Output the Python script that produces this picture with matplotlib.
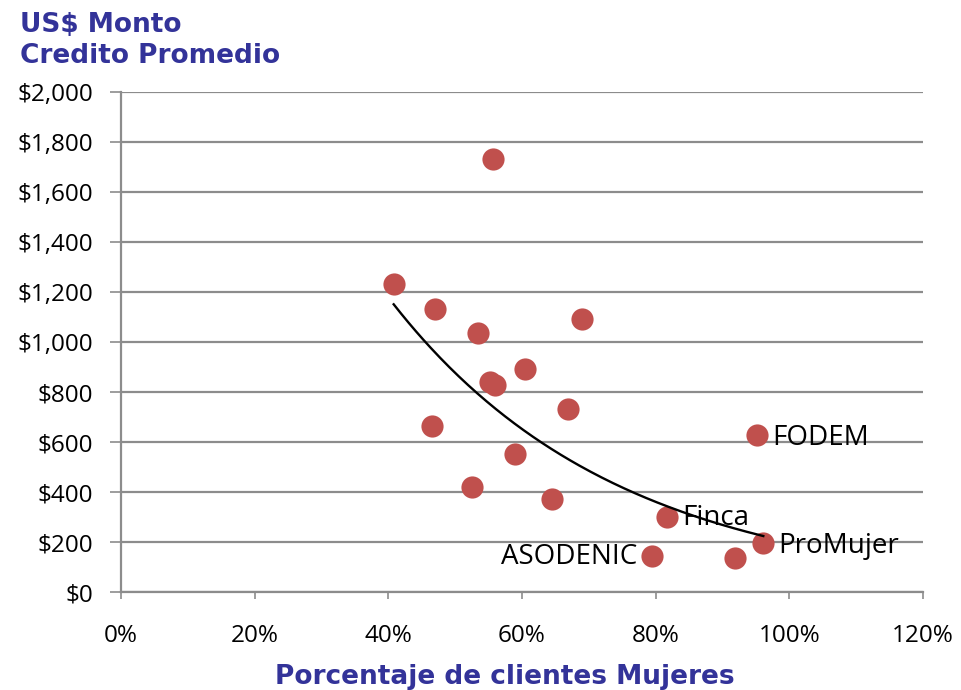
import numpy as np
import matplotlib
matplotlib.use("Agg")
import matplotlib.pyplot as plt
from matplotlib.ticker import FuncFormatter

# Data (percent women clients, average loan US$)
pct_women = [55.7, 40.8, 47.0, 53.4, 69.0, 60.5, 55.2, 56.0, 66.9, 46.5,
             59.0, 52.5, 64.5, 95.2, 81.7, 96.1, 79.5, 91.9]
avg_loan = [1732, 1232, 1132, 1036, 1092, 892, 840, 828, 732, 664,
            552, 420, 372, 628, 300, 196, 144, 136]
labels = ["", "", "", "", "", "", "", "", "", "",
          "", "", "", "FODEM", "Finca", "ProMujer", "ASODENIC", ""]

# exponential trendline: y = a * exp(b * x)
trend_a = 3850.0
trend_b = -2.96
trend_range = [0.408, 0.961]

x_ticks = [0, 20, 40, 60, 80, 100, 120]
y_ticks = [0, 200, 400, 600, 800, 1000, 1200, 1400, 1600, 1800, 2000]

blue = "#333399"
red = "#C0504D"
grid_gray = "#8C8C8C"
tick_font = "Open Sans"
title_font = "DejaVu Sans"

fig = plt.figure(figsize=(9.61, 6.90), dpi=100)
ax = fig.add_axes([0.1259, 0.142, 0.8346, 0.7247])

ax.set_xlim(0, 120)
ax.set_ylim(0, 2000)
ax.set_xticks(x_ticks)
ax.set_yticks(y_ticks)
ax.xaxis.set_major_formatter(FuncFormatter(lambda v, p: f"{int(v)}%"))
ax.yaxis.set_major_formatter(FuncFormatter(lambda v, p: f"${int(v):,}"))

ax.grid(axis="y", color=grid_gray, linewidth=1.6, zorder=0)
ax.set_axisbelow(True)
for s in ["top", "right"]:
    ax.spines[s].set_visible(False)
for s in ["left", "bottom"]:
    ax.spines[s].set_color(grid_gray)
    ax.spines[s].set_linewidth(1.6)
ax.tick_params(axis="both", colors=grid_gray, width=1.2, direction="out")
ax.tick_params(axis="x", length=5, pad=18, labelcolor="black")
ax.tick_params(axis="y", length=8, pad=12, labelcolor="black")
for lab in ax.get_xticklabels() + ax.get_yticklabels():
    lab.set_fontfamily(tick_font)
    lab.set_fontsize(17.5)

# scatter
ax.scatter(pct_women, avg_loan, s=255, color=red, zorder=3, linewidths=0)

# trendline
xt = np.linspace(trend_range[0], trend_range[1], 200)
yt = trend_a * np.exp(trend_b * xt)
ax.plot(xt * 100, yt, color="black", linewidth=1.7, zorder=4)

# labels
offsets = {"FODEM": (11, -2, "left"), "Finca": (11, -1, "left"),
           "ProMujer": (11, -2, "left"), "ASODENIC": (-11, -1, "right")}
for xv, yv, lab in zip(pct_women, avg_loan, labels):
    if lab:
        dx, dy, ha = offsets[lab]
        ax.annotate(lab, (xv, yv), xytext=(dx, dy), textcoords="offset points",
                    ha=ha, va="center", fontsize=20, fontfamily=tick_font,
                    color="black", zorder=5)

fig.text(0.021, 0.982, "US$ Monto\nCredito Promedio", ha="left", va="top",
         fontsize=19, fontweight="bold", color=blue, fontfamily=title_font,
         linespacing=1.25)
fig.text(0.525, 0.0, "Porcentaje de clientes Mujeres", ha="center", va="bottom",
         fontsize=19, fontweight="bold", color=blue, fontfamily=title_font)

fig.savefig("out.png", dpi=100)
